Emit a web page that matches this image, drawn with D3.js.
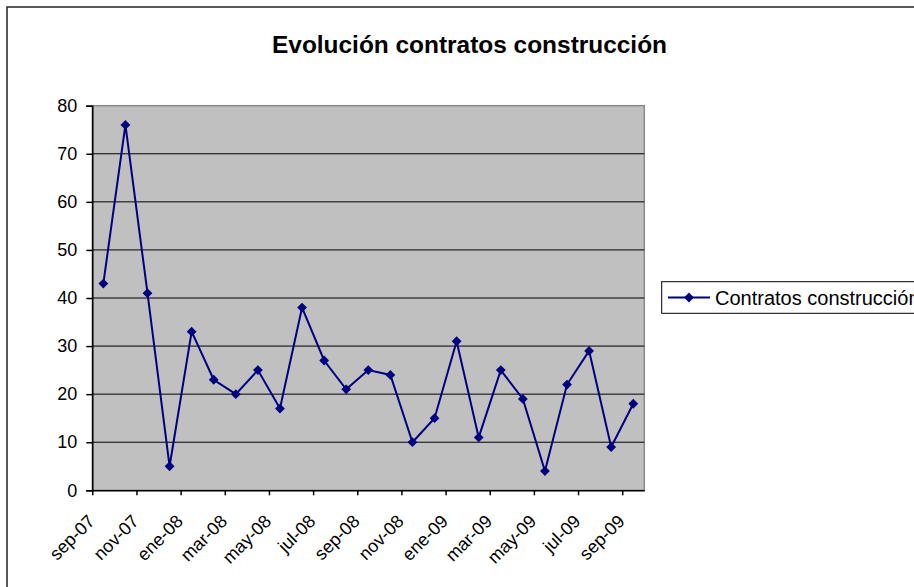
<!DOCTYPE html>
<html>
<head>
<meta charset="utf-8">
<script src="https://cdn.jsdelivr.net/npm/d3@7"></script>
<style>
  body { margin: 0; background: #fff; }
  svg { display: block; font-family: "Liberation Sans", Arial, sans-serif; }
</style>
</head>
<body>
<svg width="914" height="587"></svg>
<script>
// months shown on the category axis (sep-07 .. sep-09)
const months = ["sep-07","oct-07","nov-07","dic-07","ene-08","feb-08","mar-08","abr-08","may-08","jun-08","jul-08","ago-08",
                "sep-08","oct-08","nov-08","dic-08","ene-09","feb-09","mar-09","abr-09","may-09","jun-09","jul-09","ago-09","sep-09"];
const contratos = [43, 76, 41, 5, 33, 23, 20, 25, 17, 38, 27, 21, 25, 24, 10, 15, 31, 11, 25, 19, 4, 22, 29, 9, 18];
const yTicks = [0, 10, 20, 30, 40, 50, 60, 70, 80];
const seriesName = "Contratos construcción";
const title = "Evolución contratos construcción";

const svg = d3.select("svg");
const plot = { left: 92.3, right: 644.3, top: 105.7, bottom: 490.3 };

// outer chart frame
svg.append("rect")
    .attr("x", 7).attr("y", 7)
    .attr("width", 930).attr("height", 600)
    .attr("fill", "#fff")
    .attr("stroke", "#222")
    .attr("stroke-width", 1.5);

svg.append("text")
    .attr("x", 469.5).attr("y", 53)
    .attr("text-anchor", "middle")
    .attr("font-size", 23)
    .attr("font-weight", "bold")
    .attr("textLength", 395)
    .attr("lengthAdjust", "spacingAndGlyphs")
    .text(title);

// index scale: category i occupies [i, i+1]
const x = d3.scaleLinear()
    .domain([0, months.length])
    .range([plot.left, plot.right]);

const y = d3.scaleLinear()
    .domain([0, 80])
    .range([plot.bottom, plot.top]);

svg.append("rect")
    .attr("x", plot.left).attr("y", plot.top)
    .attr("width", plot.right - plot.left)
    .attr("height", plot.bottom - plot.top)
    .attr("fill", "#c0c0c0")
    .attr("stroke", "#8a8a8a")
    .attr("stroke-width", 1.5);

// gridlines
svg.append("g")
    .selectAll("line")
    .data(yTicks.filter(d => d > 0 && d < 80))
    .join("line")
    .attr("x1", plot.left).attr("x2", plot.right)
    .attr("y1", d => y(d)).attr("y2", d => y(d))
    .attr("stroke", "#000")
    .attr("stroke-width", 1);

// y axis
const yAxis = svg.append("g")
    .attr("transform", "translate(" + plot.left + ",0)")
    .call(d3.axisLeft(y).tickValues(yTicks).tickSize(6).tickPadding(9));
yAxis.selectAll("text")
    .attr("font-size", 18)
    .attr("font-family", "'Liberation Sans', Arial, sans-serif")
    .attr("fill", "#000");
yAxis.selectAll("line, path").attr("stroke", "#000").attr("stroke-width", 1.5);

// x axis, ticks between categories every 2 months
const tickIdx = d3.range(0, months.length, 2);
const xAxis = svg.append("g")
    .attr("transform", "translate(0," + plot.bottom + ")")
    .call(d3.axisBottom(x).tickValues(tickIdx).tickFormat(i => months[i]).tickSize(5).tickSizeOuter(0));
xAxis.selectAll("line, path").attr("stroke", "#000").attr("stroke-width", 1.5);
xAxis.selectAll("text")
    .attr("font-size", 18)
    .attr("font-family", "'Liberation Sans', Arial, sans-serif")
    .attr("fill", "#000")
    .attr("text-anchor", "end")
    .attr("dy", null)
    .attr("y", null)
    .attr("transform", "translate(3,32) rotate(-45)");

// series line
const line = d3.line()
    .x((d, i) => x(i + 0.5))
    .y(d => y(d));

svg.append("path")
    .datum(contratos)
    .attr("fill", "none")
    .attr("stroke", "#000080")
    .attr("stroke-width", 2)
    .attr("d", line);

const marker = d3.symbol().type(d3.symbolSquare).size(48);
svg.append("g")
    .selectAll("path")
    .data(contratos)
    .join("path")
    .attr("d", marker)
    .attr("fill", "#000080")
    .attr("transform", (d, i) => "translate(" + x(i + 0.5) + "," + y(d) + ") rotate(45)");

// legend
const legend = svg.append("g");
legend.append("rect")
    .attr("x", 661.7).attr("y", 281.7)
    .attr("width", 300).attr("height", 31.6)
    .attr("fill", "#fff")
    .attr("stroke", "#000")
    .attr("stroke-width", 1);
legend.append("line")
    .attr("x1", 668).attr("x2", 710)
    .attr("y1", 297.5).attr("y2", 297.5)
    .attr("stroke", "#000080")
    .attr("stroke-width", 2);
legend.append("path")
    .attr("d", marker)
    .attr("fill", "#000080")
    .attr("transform", "translate(689,297.5) rotate(45)");
legend.append("text")
    .attr("x", 715).attr("y", 304.5)
    .attr("font-size", 20)
    .text(seriesName);
</script>
</body>
</html>
